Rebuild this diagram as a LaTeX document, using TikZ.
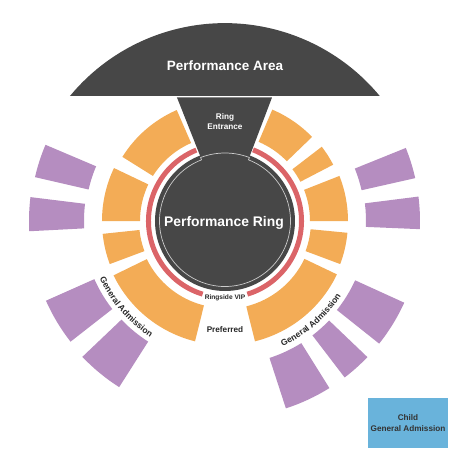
\documentclass[tikz,border=0pt]{standalone}
\usepackage{fontspec}
\setmainfont{Liberation Sans}
\usepackage{xcolor}
\usetikzlibrary{decorations.text}

\definecolor{stagedark}{HTML}{474747}
\definecolor{seatorange}{HTML}{F3AC56}
\definecolor{seatpurple}{HTML}{B58DC0}
\definecolor{ringred}{HTML}{DB6468}
\definecolor{childblue}{HTML}{69B3DB}

% #1 style, #2 #3 angles, #4 #5 radii
\newcommand{\seatsector}[5]{
  \fill[#1] (#2:#4) arc[start angle=#2,end angle=#3,radius=#4 pt]
    -- (#3:#5) arc[start angle=#3,end angle=#2,radius=#5 pt] -- cycle;
}

\tikzset{
  orangeseat/.style={seatorange},
  purpleseat/.style={seatpurple},
  ringline/.style={draw=black!20,line width=0.7pt},
  whitelabel/.style={text=white,font=\bfseries\fontsize{#1}{#1}\selectfont,align=center},
  blacklabel/.style={text=black!85,font=\bfseries\fontsize{#1}{#1}\selectfont,align=center},
  curvedlabel/.style={decorate,decoration={text along path,text align=center,
    text={|\bfseries\fontsize{8.6}{8.6}\selectfont\color{black!85}|#1}}}
}

\begin{document}
\begin{tikzpicture}[x=1pt,y=1pt]
  \useasboundingbox (-225,-229) rectangle (225,221);

  % stage
  \fill[stagedark] (-155,125) arc[start angle=140.4,end angle=39.6,radius=201pt] -- cycle;
  \fill[stagedark] (-48,123.5) -- (47,123.5) -- (24,63) -- (-24,63) -- cycle;
  \node[whitelabel=13.5] (area) at (0,155.5) {Performance Area};
  \node[whitelabel=8.2] (entrance) at (0,99.5) {Ring\\[1.2pt]Entrance};

  % ring
  \fill[stagedark] (0,0) circle[radius=70pt];
  \draw[ringline] (111:68) arc[start angle=111,end angle=69,radius=68pt]
    -- (69:65.5) arc[start angle=69,end angle=-249,radius=65.5pt] -- cycle;
  \node[whitelabel=13.9] (ring) at (-1,-1.5) {Performance Ring};
  \seatsector{ringred}{68.5}{-73}{74}{79}
  \seatsector{ringred}{112}{253}{74}{79}
  \node[blacklabel=6.6] (vip) at (0,-76.5) {Ringside VIP};

  % orange sections
  \seatsector{orangeseat}{44}{67}{86}{121}
  \seatsector{orangeseat}{27.5}{37.5}{85}{122}
  \seatsector{orangeseat}{0}{21.5}{85}{123}
  \seatsector{orangeseat}{-20.5}{-5.5}{86}{123}
  \seatsector{orangeseat}{-76}{-25.5}{88}{124}
  \seatsector{orangeseat}{206}{256}{87}{124}
  \seatsector{orangeseat}{186}{200.5}{86}{123}
  \seatsector{orangeseat}{154.5}{180}{85}{123}
  \seatsector{orangeseat}{113.5}{148}{85}{121}
  \node[blacklabel=8.2] (preferred) at (0,-109) {Preferred};

  % purple sections
  \seatsector{purpleseat}{157}{167}{140}{195}
  \seatsector{purpleseat}{173}{183}{141}{196}
  \seatsector{purpleseat}{204}{218}{143}{196}
  \seatsector{purpleseat}{223.6}{237.5}{143}{197}
  \seatsector{purpleseat}{12.7}{22}{140}{195}
  \seatsector{purpleseat}{-2.4}{7.2}{141}{195}
  \seatsector{purpleseat}{-38.5}{-24.5}{143}{197}
  \seatsector{purpleseat}{-52.6}{-43.7}{144}{197}
  \seatsector{purpleseat}{-72}{-58}{144}{197}

  % curved labels
  \path[curvedlabel=General Admission] (201:138) arc[start angle=201,end angle=241,radius=138pt];
  \path[curvedlabel=General Admission] (-69:138) arc[start angle=-69,end angle=-29,radius=138pt];

  % child box
  \node[fill=childblue,minimum width=80pt,minimum height=50pt,inner sep=0pt,
    text=black!80,font=\bfseries\fontsize{8.2}{10.6}\selectfont,align=center] (child) at (183,-202) {Child\\General Admission};
\end{tikzpicture}
\end{document}
